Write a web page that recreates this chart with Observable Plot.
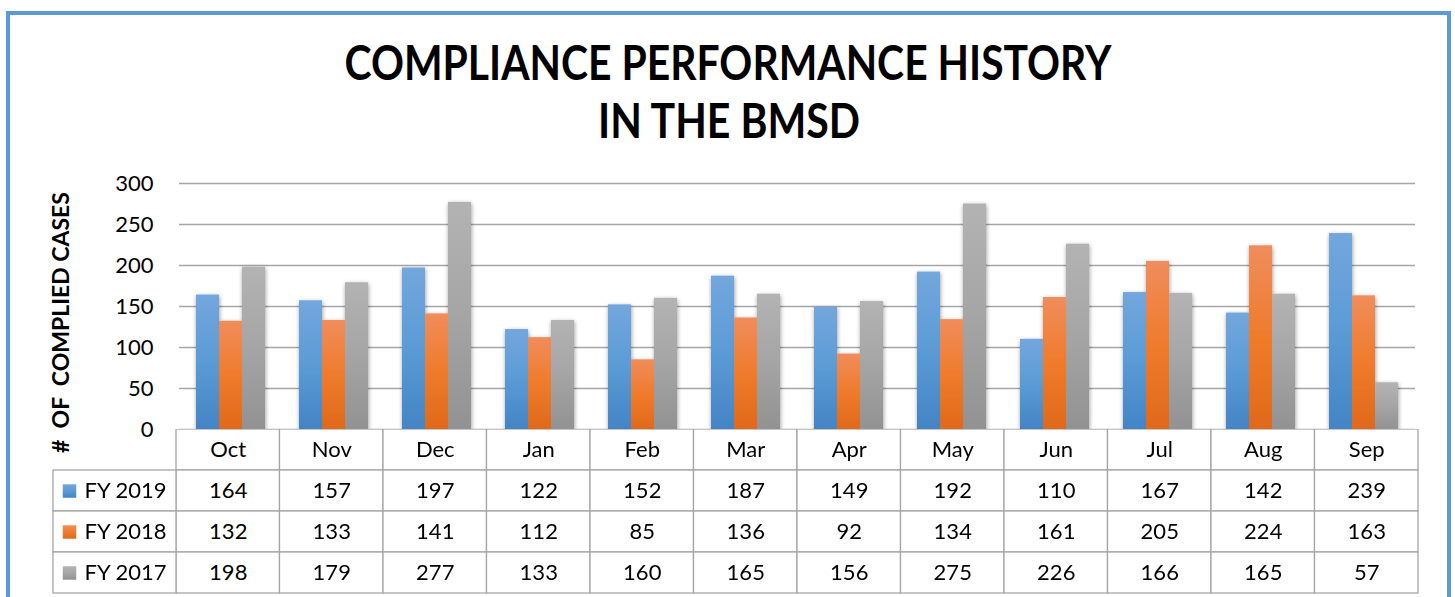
<!DOCTYPE html>
<html><head><meta charset="utf-8">
<script src="https://cdn.jsdelivr.net/npm/d3@7"></script>
<script src="https://cdn.jsdelivr.net/npm/@observablehq/plot@0.6"></script>
<style>
html,body{margin:0;padding:0;background:#fff;overflow:hidden;width:1455px;height:597px;font-family:Lato,"Open Sans",sans-serif;}
#frame{position:absolute;left:6px;top:11px;width:1445px;height:700px;box-sizing:border-box;border:4px solid #5b9bd5;}
#title{position:absolute;left:0;top:0;}
#main{position:absolute;left:0;top:160px;}
#table{position:absolute;left:0;top:429px;}
</style></head><body>
<div id="frame"></div>
<svg id="title" width="1455" height="160" xmlns="http://www.w3.org/2000/svg"></svg>
<div id="main"></div>
<div id="table"></div>
<script>
// ---- data ----
const titleLines = ["COMPLIANCE PERFORMANCE HISTORY", "IN THE BMSD"];
const yLabel = "#  OF  COMPLIED CASES";
const months = ["Oct","Nov","Dec","Jan","Feb","Mar","Apr","May","Jun","Jul","Aug","Sep"];
const series = ["FY 2019","FY 2018","FY 2017"];
const fy2019 = [164,157,197,122,152,187,149,192,110,167,142,239];
const fy2018 = [132,133,141,112,85,136,92,134,161,205,224,163];
const fy2017 = [198,179,277,133,160,165,156,275,226,166,165,57];
const yTicks = [0,50,100,150,200,250,300];

// ---- styles ----
const gradients = [
  {id:"g2019", stops:["#73a7dd","#5b9bd5","#4384c5"]},
  {id:"g2018", stops:["#f08d5c","#ef7b2c","#e0691a"]},
  {id:"g2017", stops:["#b3b3b3","#a5a5a5","#929292"]}
];
const gridColor = "#a6a6a6";
const fontFamily = "Lato, 'Open Sans', sans-serif";

const seriesValues = [fy2019, fy2018, fy2017];
const data = months.flatMap((m,i) => series.map((s,j) => ({month:m, idx:i, series:s, value:seriesValues[j][i]})));

// ---- title + defs ----
const tsvg = d3.select("#title");
const defs = tsvg.append("defs");
gradients.forEach(g => {
  const lg = defs.append("linearGradient").attr("id", g.id).attr("x1",0).attr("y1",0).attr("x2",0).attr("y2",1);
  g.stops.forEach((c,k) => lg.append("stop").attr("offset", k/2).attr("stop-color", c));
});
const f = defs.append("filter").attr("id","shadow").attr("x","-10%").attr("y","-10%").attr("width","120%").attr("height","120%");
f.append("feDropShadow").attr("dx",0.5).attr("dy",1.5).attr("stdDeviation",2.2).attr("flood-color","#000").attr("flood-opacity",0.4);

const titleSpecs = [{x:728, y:80, len:767}, {x:729, y:138, len:262}];
titleLines.forEach((t,k) => {
  tsvg.append("text").attr("x", titleSpecs[k].x).attr("y", titleSpecs[k].y)
    .attr("text-anchor","middle").attr("font-family", fontFamily).attr("font-weight", 700)
    .attr("font-size", 47).attr("fill","#000")
    .attr("textLength", titleSpecs[k].len).attr("lengthAdjust","spacingAndGlyphs").text(t);
});

// ---- main chart ----
const colorRange = gradients.map(g => `url(#${g.id})`);
const main = Plot.plot({
  width: 1455, height: 269,
  marginTop: 23, marginBottom: 0, marginLeft: 176, marginRight: 37,
  style: {background: "transparent", overflow: "visible", fontFamily, fontSize: "22px", color: "#000"},
  fx: {domain: months, padding: 0, axis: null},
  x: {domain: series, paddingInner: 0, paddingOuter: 0.72, axis: null},
  y: {domain: [0, 300], axis: null},
  color: {domain: series, range: colorRange},
  marks: [
    Plot.gridY(yTicks, {stroke: gridColor, strokeOpacity: 1, strokeWidth: 1.3}),
    Plot.axisY(yTicks, {tickSize: 0, tickPadding: 26, label: null, fill: "#000", stroke: gridColor, strokeWidth: 1.3, line: true, fontSize: 22}),
    Plot.barY(data, {fx: "month", x: "series", y: "value", fill: "series"}),
    Plot.text([yLabel], {fx: () => months[0], frameAnchor: "left", textAnchor: "middle", lineAnchor: "middle", rotate: -90, dx: -117.5, dy: 16,
      text: d => d, fontWeight: "bold", fontSize: 23, fill: "#000"})
  ]
});
d3.select(main).selectAll('g[aria-label="bar"]').attr("filter", "url(#shadow)");
d3.select(main).selectAll('g[aria-label="text"] text').style("white-space", "pre");
document.getElementById("main").append(main);

// ---- data table ----
const legendCols = 123 / 103.5;
const rowKeys = ["header", ...series];
const monthCells = months.flatMap((m,i) => rowKeys.map(r => ({idx:i, row:r})));
const table = Plot.plot({
  width: 1455, height: 168,
  marginTop: 0, marginBottom: 4, marginLeft: 53, marginRight: 37,
  style: {background: "transparent", fontFamily, fontSize: "22px", color: "#000"},
  x: {type: "linear", domain: [-legendCols, months.length], axis: null},
  y: {domain: rowKeys, padding: 0, axis: null},
  color: {domain: series, range: colorRange},
  marks: [
    Plot.barX(monthCells, {x1: d => d.idx, x2: d => d.idx + 1, y: "row", fill: "white", stroke: gridColor, strokeWidth: 1.3}),
    Plot.barX(series, {x1: () => -legendCols, x2: () => 0, y: d => d, fill: "white", stroke: gridColor, strokeWidth: 1.3}),
    Plot.text(months, {x: (d,i) => i + 0.5, y: () => "header", text: d => d, fill: "#000", fontSize: 22}),
    Plot.text(data, {x: d => d.idx + 0.5, y: "series", text: d => String(d.value), fill: "#000", fontSize: 22}),
    Plot.dot(series, {x: () => -legendCols, y: d => d, dx: 16, symbol: "square", r: 7.6, fill: d => d, stroke: null}),
    Plot.text(series, {x: () => -legendCols, y: d => d, dx: 31, textAnchor: "start", text: d => d, fill: "#000", fontSize: 22})
  ]
});
document.getElementById("table").append(table);
</script>
</body></html>
